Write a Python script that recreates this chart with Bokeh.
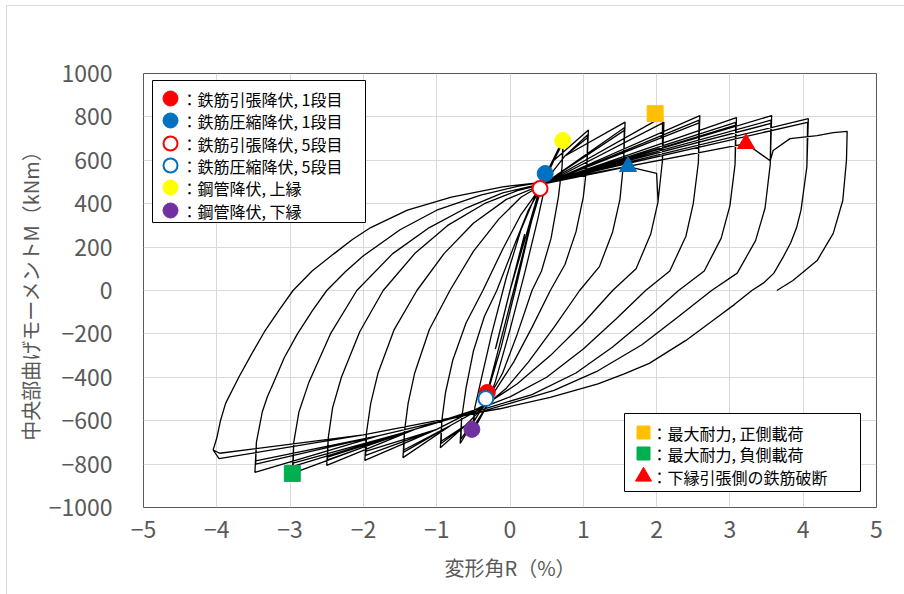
from bokeh.plotting import figure
from bokeh.models import Range1d, FixedTicker, CustomJSTickFormatter, InlineStyleSheet
from bokeh.core.properties import value
from bokeh.embed import file_html
from bokeh.resources import INLINE

# ---- axes -------------------------------------------------------------
x_ticks = [-5, -4, -3, -2, -1, 0, 1, 2, 3, 4, 5]
x_tick_labels = ["−5", "−4", "−3", "−2", "−1", "0", "1", "2", "3", "4", "5"]
y_ticks = [-1000, -800, -600, -400, -200, 0, 200, 400, 600, 800, 1000]
y_tick_labels = ["−1000", "−800", "−600", "−400", "−200", "0",
                 "200", "400", "600", "800", "1000"]
x_title = "変形角R（%）"
y_title = "中央部曲げモーメントM（kNm）"

# ---- hysteresis: one entry per amplitude level (R in %, M in kNm) -------
level_pct = [0.25, 0.4, 0.5, 0.75, 1.0, 1.5, 2.0, 2.5, 3.0, 3.5, 4.0]

# peaks of each cycle at a level
pos_peak_R = [[0.20, 0.20], [0.41, 0.42, 0.40], [0.50, 0.49], [0.73, 0.72],
              [1.07, 1.06, 1.06], [1.57, 1.56, 1.56], [2.08, 2.10, 2.00],
              [2.59, 2.58, 2.58], [3.09, 3.08, 3.08], [3.57, 3.56, 3.56], [4.07, 4.06]]
pos_peak_M = [[260, 250], [475, 485, 468], [550, 530], [700, 680],
              [740, 718, 705], [776, 750, 738], [800, 775, 540],
              [806, 785, 772], [797, 775, 762], [806, 785, 770], [792, 775]]
neg_peak_R = [[-0.20, -0.19], [-0.31, -0.33, -0.32], [-0.52, -0.50], [-0.68, -0.67],
              [-0.95, -0.94, -0.94], [-1.46, -1.45, -1.45], [-1.98, -1.97, -1.96],
              [-2.50, -2.49, -2.49], [-2.97, -2.96, -2.96], [-3.48, -3.47, -3.47],
              [-3.97, -3.96]]
neg_peak_M = [[-270, -260], [-470, -498, -485], [-660, -630], [-705, -685],
              [-725, -705, -695], [-770, -745, -735], [-783, -760, -740],
              [-806, -780, -768], [-843, -810, -795], [-838, -800, -785],
              [-775, -750]]

# unloading from the positive peak down to the lower pinch / lower loading line
down_R = [
    [0.0],
    [0.28, 0.07, -0.12],
    [0.47, 0.38, 0.20, 0.00, -0.20, -0.33],
    [0.71, 0.66, 0.56, 0.43, 0.30, 0.10, -0.10, -0.30, -0.45],
    [1.05, 1.00, 0.90, 0.75, 0.55, 0.30, 0.05, -0.20, -0.40, -0.60],
    [1.55, 1.50, 1.40, 1.22, 0.95, 0.60, 0.25, -0.05, -0.35, -0.80],
    [2.08, 2.02, 1.92, 1.72, 1.40, 1.00, 0.55, 0.10, -0.33, -1.00],
    [2.57, 2.50, 2.40, 2.18, 1.85, 1.45, 1.00, 0.50, 0.00, -0.38, -1.30],
    [3.07, 3.00, 2.88, 2.65, 2.30, 1.90, 1.40, 0.90, 0.30, -0.35, -1.50],
    [3.55, 3.48, 3.35, 3.10, 2.75, 2.30, 1.80, 1.20, 0.60, 0.00, -0.42, -1.80],
    [4.05, 4.01, 3.97, 3.91, 3.83, 3.72, 3.60, 3.46, 3.30, 3.06, 2.80, 2.40, 1.90,
     1.55, 1.20, 0.55, -0.14, -0.40, -2.00],
]
down_M = [
    [0],
    [300, 0, -260],
    [470, 330, 80, -180, -420, -540],
    [570, 430, 240, 90, 0, -200, -380, -500, -580],
    [580, 430, 270, 120, 0, -170, -330, -460, -550, -620],
    [590, 420, 270, 110, 0, -170, -330, -450, -535, -620],
    [600, 410, 260, 100, 0, -150, -300, -430, -525, -640],
    [590, 400, 250, 90, 0, -130, -270, -400, -490, -540, -640],
    [580, 390, 240, 90, 0, -120, -260, -380, -480, -545, -660],
    [580, 380, 230, 80, 0, -120, -250, -370, -460, -520, -560, -670],
    [570, 470, 370, 290, 220, 150, 80, 35, 0, -65, -130, -230, -336,
     -385, -430, -493, -545, -560, -665],
]

# unloading from the negative peak up to the upper pinch
up_R = [
    [0.0],
    [-0.18, 0.05, 0.25],
    [-0.48, -0.40, -0.25, -0.05, 0.15, 0.35],
    [-0.66, -0.60, -0.50, -0.35, -0.18, 0.05, 0.25, 0.45, 0.60],
    [-0.93, -0.88, -0.78, -0.60, -0.37, -0.10, 0.15, 0.45, 0.75],
    [-1.44, -1.39, -1.30, -1.10, -0.82, -0.50, -0.15, 0.15, 0.50],
    [-1.96, -1.90, -1.80, -1.58, -1.27, -0.90, -0.50, -0.05, 0.48],
    [-2.48, -2.42, -2.30, -2.05, -1.73, -1.30, -0.85, -0.35, 0.10, 0.46],
    [-2.95, -2.88, -2.74, -2.45, -2.09, -1.60, -1.10, -0.60, -0.10, 0.52],
    [-3.46, -3.42, -3.38, -3.31, -3.22, -3.08, -2.90, -2.70, -2.50, -2.25, -2.00,
     -1.50, -1.00, -0.40, 0.10, 0.55],
    [-4.05, -4.00, -3.95, -3.88, -3.70, -3.52, -3.35, -3.15, -2.96, -2.70, -2.40,
     -2.15, -1.90, -1.40, -0.80, -0.10, 0.50],
]
up_M = [
    [0],
    [-300, 0, 270],
    [-540, -420, -200, 60, 280, 440],
    [-590, -450, -280, -120, 0, 200, 370, 490, 600],
    [-600, -470, -320, -150, 0, 190, 350, 490, 620],
    [-650, -520, -380, -180, 0, 180, 330, 430, 500],
    [-660, -520, -380, -180, 0, 170, 310, 420, 493],
    [-680, -540, -400, -190, 0, 170, 300, 400, 460, 490],
    [-700, -560, -420, -200, 0, 170, 290, 380, 450, 498],
    [-700, -630, -560, -490, -420, -310, -200, -95, 0, 85, 160,
     280, 370, 440, 480, 505],
    [-735, -680, -600, -520, -400, -290, -190, -90, 0, 90, 170,
     235, 290, 370, 430, 478, 500],
]

# rebar fracture during the third 2.0 % cycle
fracture1_R = [1.61]
fracture1_M = [571]
fracture1_level, fracture1_cycle = 6, 2

# last push: fracture of the lower rebar, then unloading to zero
final_R = [3.22, 3.55, 3.59, 3.82, 4.19, 4.41, 4.60, 4.59, 4.54, 4.41, 4.19, 3.86, 3.64]
final_M = [677, 598, 645, 700, 714, 728, 733, 599, 415, 263, 138, 46, 0]

# ---- event markers ----------------------------------------------------
tens_yield1_R, tens_yield1_M = [-0.31], [-470]
comp_yield1_R, comp_yield1_M = [0.48], [539]
tens_yield5_R, tens_yield5_M = [0.41], [470]
comp_yield5_R, comp_yield5_M = [-0.33], [-498]
pipe_top_R, pipe_top_M = [0.72], [691]
pipe_bot_R, pipe_bot_M = [-0.52], [-640]
max_pos_R, max_pos_M = [1.98], [815]
max_neg_R, max_neg_M = [-2.97], [-843]
break_low_R, break_low_M = [3.22], [677]
break_other_R, break_other_M = [1.61], [571]

legend1_labels = ["：鉄筋引張降伏, 1段目", "：鉄筋圧縮降伏, 1段目", "：鉄筋引張降伏, 5段目",
                  "：鉄筋圧縮降伏, 5段目", "：鋼管降伏, 上縁", "：鋼管降伏, 下縁"]
legend2_labels = ["：最大耐力, 正側載荷", "：最大耐力, 負側載荷", "：下縁引張側の鉄筋破断"]

# ---- colours ----------------------------------------------------------
RED, BLUE, YELLOW, PURPLE = "#FF0000", "#0070C0", "#FFFF00", "#7030A0"
ORANGE, GREEN = "#FFC000", "#00B050"
GREY_TXT, GRID = "#595959", "#D9D9D9"

# ---- build the continuous load path -------------------------------------
path_R, path_M = [0.0], [0.0]
for i in range(len(level_pct)):
    for c in range(len(pos_peak_R[i])):
        if (i, c) == (fracture1_level, fracture1_cycle):
            path_R += fracture1_R
            path_M += fracture1_M
        pk = pos_peak_M[i][c]
        path_R.append(pos_peak_R[i][c])
        path_M.append(pk)
        for r, m in zip(down_R[i], down_M[i]):
            if m < pk:
                path_R.append(r)
                path_M.append(m)
        path_R.append(neg_peak_R[i][c])
        path_M.append(neg_peak_M[i][c])
        path_R += up_R[i]
        path_M += up_M[i]
path_R += final_R
path_M += final_M

# ---- figure -----------------------------------------------------------
FL, FR, FT, FB = 143, 876, 73, 507
W, H = 904, 594
p = figure(width=W, height=H, output_backend="svg", toolbar_location=None,
           x_range=Range1d(-5, 5), y_range=Range1d(-1000, 1000),
           min_border_left=FL, min_border_right=W - FR,
           min_border_top=FT, min_border_bottom=H - FB,
           background_fill_color="white", border_fill_color="white")
p.outline_line_color = "#595959"
p.outline_line_width = 1

p.xaxis.ticker = FixedTicker(ticks=x_ticks)
p.yaxis.ticker = FixedTicker(ticks=y_ticks)
fmt_code = "const i = tick_vals.indexOf(tick); return i < 0 ? '' : tick_text[i];"
p.xaxis.formatter = CustomJSTickFormatter(args=dict(tick_vals=x_ticks, tick_text=x_tick_labels),
                                          code=fmt_code)
p.yaxis.formatter = CustomJSTickFormatter(args=dict(tick_vals=y_ticks, tick_text=y_tick_labels),
                                          code=fmt_code)

for ax in (p.xaxis[0], p.yaxis[0]):
    ax.axis_line_color = None
    ax.major_tick_line_color = None
    ax.minor_tick_line_color = None
    ax.major_tick_out = 0
    ax.major_tick_in = 0
    ax.major_label_text_font = "Liberation Sans Narrow, Noto Sans CJK JP"
    ax.major_label_text_font_size = "23px"
    ax.major_label_text_color = GREY_TXT
    ax.axis_label_text_font = "Noto Sans CJK JP"
    ax.axis_label_text_font_size = "20px"
    ax.axis_label_text_font_style = "normal"
    ax.axis_label_text_color = GREY_TXT
p.xaxis.axis_label = x_title
p.yaxis.axis_label = y_title
p.xaxis.major_label_standoff = 13
p.xaxis.axis_label_standoff = 12
p.yaxis.major_label_standoff = 31
p.yaxis.axis_label_standoff = 1

p.xgrid.grid_line_color = GRID
p.ygrid.grid_line_color = GRID
p.xgrid.grid_line_width = 1
p.ygrid.grid_line_width = 1

# light chart-area border along the top and left edge of the page
p.stylesheets = [InlineStyleSheet(css=(
    ":host::after { content: ''; position: absolute; left: 6px; top: 5px; right: 0; bottom: 0;"
    " border-left: 1px solid #D9D9D9; border-top: 1px solid #D9D9D9; pointer-events: none; }"))]

# hysteresis curve
p.line(path_R, path_M, line_color="black", line_width=1.3)

# event markers
p.scatter(tens_yield1_R, tens_yield1_M, marker="circle", size=16, fill_color=RED, line_color=RED)
p.scatter(comp_yield5_R, comp_yield5_M, marker="circle", size=15, fill_color="white",
          line_color=BLUE, line_width=2)
p.scatter(comp_yield1_R, comp_yield1_M, marker="circle", size=16, fill_color=BLUE, line_color=BLUE)
p.scatter(tens_yield5_R, tens_yield5_M, marker="circle", size=15, fill_color="white",
          line_color=RED, line_width=2)
p.scatter(pipe_top_R, pipe_top_M, marker="circle", size=16, fill_color=YELLOW, line_color=YELLOW)
p.scatter(pipe_bot_R, pipe_bot_M, marker="circle", size=16, fill_color=PURPLE, line_color=PURPLE)
p.scatter(max_pos_R, max_pos_M, marker="square", size=16, fill_color=ORANGE, line_color=ORANGE)
p.scatter(max_neg_R, max_neg_M, marker="square", size=16, fill_color=GREEN, line_color=GREEN)
p.scatter(break_low_R, break_low_M, marker="triangle", size=17, fill_color=RED, line_color=RED)
p.scatter(break_other_R, break_other_M, marker="triangle", size=17, fill_color=BLUE, line_color=BLUE)


# ---- legend boxes (placed in screen pixels, converted to data units) ---
def sx(px):
    return -5 + 10 * (px - FL) / (FR - FL)


def sy(py):
    return 1000 - 2000 * (py - FT) / (FB - FT)


def legend_box(x0, y0, x1, y1):
    p.quad(left=[sx(x0)], right=[sx(x1)], top=[sy(y0)], bottom=[sy(y1)],
           fill_color="white", line_color="black", line_width=1)


legend_box(152, 80, 365, 222)
rows1 = [98, 120, 143, 165, 187, 210]
mx1 = sx(170)
p.scatter([mx1], [sy(rows1[0])], marker="circle", size=15, fill_color=RED, line_color=RED)
p.scatter([mx1], [sy(rows1[1])], marker="circle", size=15, fill_color=BLUE, line_color=BLUE)
p.scatter([mx1], [sy(rows1[2])], marker="circle", size=14, fill_color="white", line_color=RED, line_width=2)
p.scatter([mx1], [sy(rows1[3])], marker="circle", size=14, fill_color="white", line_color=BLUE, line_width=2)
p.scatter([mx1], [sy(rows1[4])], marker="circle", size=15, fill_color=YELLOW, line_color=YELLOW)
p.scatter([mx1], [sy(rows1[5])], marker="circle", size=15, fill_color=PURPLE, line_color=PURPLE)
p.text([sx(181)] * len(rows1), [sy(r) for r in rows1], text=legend1_labels,
       text_font=value("Noto Sans CJK JP"), text_font_size="16px",
       text_baseline="middle", text_align="left", text_color="black")

legend_box(624, 413, 860, 491)
rows2 = [432, 453, 476]
mx2 = sx(643)
p.scatter([mx2], [sy(rows2[0])], marker="square", size=13, fill_color=ORANGE, line_color=ORANGE)
p.scatter([mx2], [sy(rows2[1])], marker="square", size=13, fill_color=GREEN, line_color=GREEN)
p.scatter([mx2], [sy(rows2[2])], marker="triangle", size=16, fill_color=RED, line_color=RED)
p.text([sx(651)] * len(rows2), [sy(r) for r in rows2], text=legend2_labels,
       text_font=value("Noto Sans CJK JP"), text_font_size="16px",
       text_baseline="middle", text_align="left", text_color="black")

open("out.html", "w").write(file_html(p, INLINE))
